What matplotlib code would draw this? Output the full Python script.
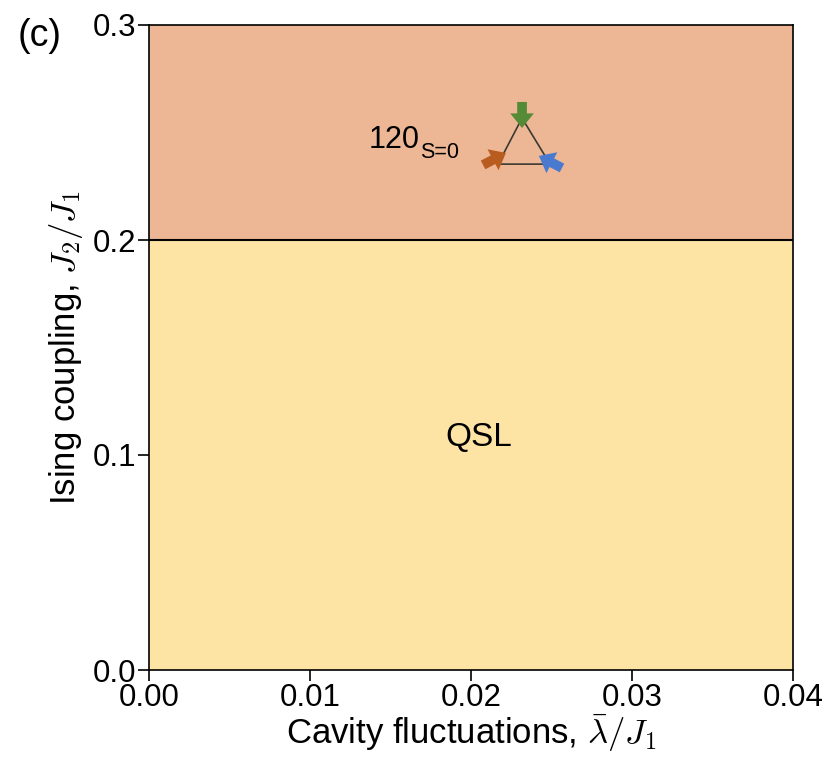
import matplotlib

matplotlib.use("Agg")
import matplotlib.pyplot as plt

plt.rcParams["font.family"] = ["Liberation Sans", "DejaVu Sans"]
plt.rcParams["mathtext.fontset"] = "cm"

x_lim = [0.0, 0.04]
y_lim = [0.0, 0.3]
boundary = 0.2
x_ticks = [0.00, 0.01, 0.02, 0.03, 0.04]
y_ticks = [0.0, 0.1, 0.2, 0.3]

# triangle corners: top, right, left
tri_x = [0.02317, 0.02491, 0.02168]
tri_y = [0.2567, 0.2353, 0.2353]
# spin arrows: tail and head
arrow_tail_x = [0.02317, 0.02565, 0.02075]
arrow_tail_y = [0.2642, 0.2335, 0.2349]
arrow_head_x = [0.02317, 0.02422, 0.02217]
arrow_head_y = [0.2521, 0.2391, 0.2405]
arrow_colors = ["#558b36", "#4a7ad0", "#b85c20"]

fig = plt.figure(figsize=(8.28, 7.57), dpi=100)
ax = fig.add_axes([149 / 828, 1 - 670 / 757, 644 / 828, 645 / 757])

ax.axhspan(y_lim[0], boundary, color="#fde4a4", lw=0)
ax.axhspan(boundary, y_lim[1], color="#edb795", lw=0)
ax.axhline(boundary, color="black", lw=1.5)

ax.plot(tri_x + tri_x[:1], tri_y + tri_y[:1], color="#3a3a30", lw=1.2)
for i in range(3):
    ax.annotate(
        "",
        xy=(arrow_head_x[i], arrow_head_y[i]),
        xytext=(arrow_tail_x[i], arrow_tail_y[i]),
        arrowprops=dict(
            width=7,
            headwidth=17,
            headlength=10.5,
            color=arrow_colors[i],
            lw=0,
        ),
        zorder=3,
    )

ax.text(0.01683, 0.2465, "120", fontsize=22, ha="right", va="center")
ax.text(0.01683, 0.2409, "S=0", fontsize=15.5, ha="left", va="center")
ax.text(0.0205, 0.108, "QSL", fontsize=24, ha="center", va="center")

ax.set_xlim(x_lim)
ax.set_ylim(y_lim)
ax.set_xticks(x_ticks)
ax.set_xticklabels([f"{v:.2f}" for v in x_ticks])
ax.set_yticks(y_ticks)
ax.set_yticklabels([f"{v:.1f}" for v in y_ticks])
ax.tick_params(labelsize=22.5, length=8, width=1.2, pad=1)
for side in ax.spines.values():
    side.set_linewidth(1.2)

ax.set_xlabel(r"Cavity fluctuations, $\bar{\lambda}/J_1$", fontsize=25, labelpad=0)
ax.set_ylabel(r"Ising coupling, $J_2/J_1$", fontsize=25, labelpad=6)
fig.text(18 / 828, 1 - 36 / 757, "(c)", fontsize=27, ha="left", va="center")

fig.savefig("out.png", dpi=100)
